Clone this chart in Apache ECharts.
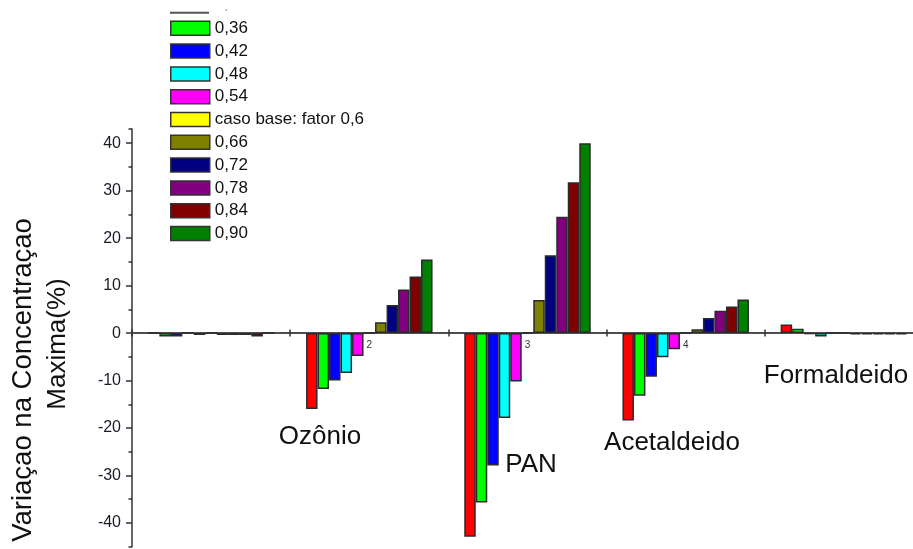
<!DOCTYPE html>
<html>
<head>
<meta charset="utf-8">
<script src="https://cdn.jsdelivr.net/npm/echarts@6/dist/echarts.min.js"></script>
<style>
  html, body { margin: 0; padding: 0; background: #fff; }
  #chart { width: 913px; height: 549px; }
</style>
</head>
<body>
<div id="chart"></div>
<script>
// Groups along the x axis and their tick labels
const groups = ['1', '2', '3', '4', '5'];
const groupTickLabels = ['', '2', '3', '4', ''];
// Species names written beside groups 2..5
const speciesNames = ['Ozônio', 'PAN', 'Acetaldeido', 'Formaldeido'];

// Scenario names (emission factor)
const factorNames = ['0,30', '0,36', '0,42', '0,48', '0,54', 'caso base: fator 0,6',
                     '0,66', '0,72', '0,78', '0,84', '0,90'];

// Variation of maximum concentration (%) per scenario, one value per group
const f030 = [0, -16.0, -42.9, -18.4, 1.8];
const f036 = [-0.7, -11.8, -35.7, -13.2, 0.9];
const f042 = [-0.7, -10.0, -27.9, -9.2, -0.2];
const f048 = [0, -8.4, -17.9, -5.1, -0.7];
const f054 = [-0.4, -4.8, -10.2, -3.4, 0];
const f060 = [0, 0, 0, 0, 0];
const f066 = [-0.4, 2.3, 7.0, 0.8, -0.3];
const f072 = [-0.4, 5.9, 16.4, 3.2, -0.3];
const f078 = [-0.4, 9.2, 24.5, 4.7, -0.3];
const f084 = [-0.7, 11.9, 31.8, 5.6, -0.3];
const f090 = [0, 15.5, 40.0, 7.1, -0.3];

// Value axis range and tick values
const yMin = -45;
const yMax = 43;
const yMajorTicks = [-40, -30, -20, -10, 0, 10, 20, 30, 40];

const seriesValues = [f030, f036, f042, f048, f054, f060, f066, f072, f078, f084, f090];
const palette = ['#ff0000', '#00ff00', '#0000ff', '#00ffff', '#ff00ff', '#ffff00',
                 '#808000', '#000080', '#800080', '#800000', '#008000'];

const FONT = "'Liberation Sans', Arial, sans-serif";
const W = 913, H = 549;
const gridTop = 129, gridBottom = 2.3;
const gridHeight = H - gridTop - gridBottom;
// distance of the zero line from the bottom / top edges of the plot area
const zeroFromBottom = gridHeight * (0 - yMin) / (yMax - yMin);
const zeroFromTop = gridHeight - zeroFromBottom;

const chart = echarts.init(document.getElementById('chart'), null, { renderer: 'canvas' });

const series = seriesValues.map((vals, i) => ({
  type: 'bar',
  name: factorNames[i],
  data: vals,
  barWidth: 11.5,
  barGap: '0%',
  xAxisIndex: 0,
  yAxisIndex: 0,
  itemStyle: { color: palette[i], borderColor: '#2a2a2a', borderWidth: 1.5 },
  emphasis: { disabled: true },
  animation: false
}));

// Species annotation centres (px)
const speciesPos = [[320, 437], [531, 465], [672, 443], [836, 376]];

const axisLineStyle = { color: '#444', width: 1.5 };
const tickStyle = { color: '#333', width: 1.5 };

const option = {
  animation: false,
  backgroundColor: '#ffffff',
  textStyle: { fontFamily: FONT },
  grid: { left: 132, right: -10, top: gridTop, bottom: gridBottom,
          containLabel: false, outerBoundsMode: 'none' },
  legend: {
    orient: 'vertical',
    left: 170,
    top: 19.8,
    padding: 0,
    itemWidth: 39,
    itemHeight: 14,
    itemGap: 5.8,
    data: factorNames.slice(1),
    icon: 'rect',
    itemStyle: { borderColor: '#333', borderWidth: 1.5 },
    textStyle: { fontFamily: FONT, fontSize: 17, color: '#111' },
    selectedMode: false
  },
  xAxis: [{
    type: 'category',
    data: groups,
    position: 'bottom',
    offset: -zeroFromBottom,
    axisLine: { onZero: false, lineStyle: axisLineStyle },
    axisTick: { show: true, length: 3.5, lineStyle: tickStyle },
    axisLabel: {
      margin: 7,
      fontSize: 10,
      color: '#333',
      fontFamily: FONT,
      formatter: (v, idx) => groupTickLabels[idx]
    },
    splitLine: { show: false }
  }, {
    type: 'category',
    data: groups,
    position: 'top',
    offset: -zeroFromTop,
    axisLine: { onZero: false, lineStyle: axisLineStyle },
    axisTick: { show: true, length: 3.5, lineStyle: tickStyle },
    axisLabel: { show: false },
    splitLine: { show: false }
  }],
  yAxis: [{
    type: 'value',
    min: yMin,
    max: yMax,
    interval: 5,
    axisLine: { show: true, onZero: false, lineStyle: { color: '#333', width: 1.5 } },
    axisTick: { show: true, length: 3.5, lineStyle: tickStyle },
    axisLabel: {
      margin: 11,
      fontSize: 16,
      color: '#1a1a2a',
      fontFamily: FONT,
      formatter: v => (v % 10 === 0 ? String(v) : '')
    },
    splitLine: { show: false }
  }, {
    type: 'value',
    min: yMin,
    max: yMax,
    position: 'left',
    axisLine: { show: false, onZero: false },
    axisTick: { show: true, length: 6, customValues: yMajorTicks, lineStyle: tickStyle },
    axisLabel: { show: false },
    splitLine: { show: false }
  }],
  series: series,
  graphic: [
    // first legend row: plain line with a dot label
    { type: 'line', shape: { x1: 170, y1: 12.7, x2: 209, y2: 12.7 },
      style: { stroke: '#555', lineWidth: 2 }, silent: true },
    { type: 'text', x: 224, y: -1,
      style: { text: '.', fontSize: 16, fontFamily: FONT, fill: '#aaa' }, silent: true },
    // y axis title, two rotated lines
    { type: 'text', x: 23, y: 380, rotation: Math.PI / 2,
      style: { text: 'Variaçao na Concentraçao', fontSize: 27.5, fontFamily: FONT, fill: '#111',
               textAlign: 'center', textVerticalAlign: 'middle' }, silent: true },
    { type: 'text', x: 57.5, y: 344, rotation: Math.PI / 2,
      style: { text: 'Maxima(%)', fontSize: 26, fontFamily: FONT, fill: '#111',
               textAlign: 'center', textVerticalAlign: 'middle' }, silent: true }
  ].concat(speciesNames.map((name, i) => ({
    type: 'text', x: speciesPos[i][0], y: speciesPos[i][1],
    style: { text: name, fontSize: 26, fontFamily: FONT, fill: '#111',
             textAlign: 'center', textVerticalAlign: 'middle' }, silent: true
  })))
};

chart.setOption(option);
</script>
</body>
</html>
